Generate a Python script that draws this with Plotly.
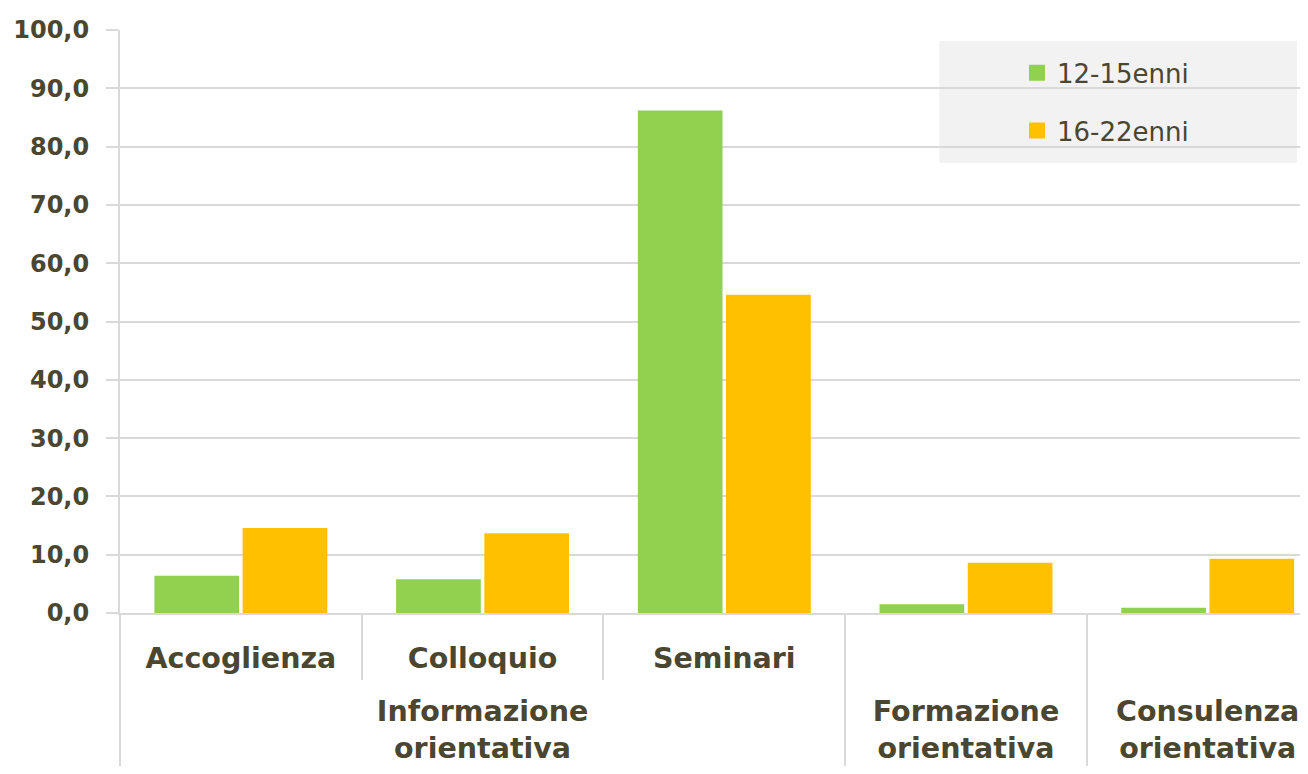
import plotly.graph_objects as go

# ---- data ----
groups = ["Informazione<br>orientativa", "Informazione<br>orientativa", "Informazione<br>orientativa",
          "Formazione<br>orientativa", "Consulenza<br>orientativa"]
activities = ["Accoglienza", "Colloquio", "Seminari", " ", "  "]
series_names = ["12-15enni", "16-22enni"]
values_12_15 = [6.4, 5.8, 86.2, 1.5, 0.9]
values_16_22 = [14.6, 13.7, 54.6, 8.6, 9.3]

GREEN = "#92d050"
ORANGE = "#ffc000"
TEXT = "#4b4630"
GRID = "#d9d9d9"
FONT = "DejaVu Sans"

# outer labels sit one blank line lower, as in the reference
group_labels = ["<br>" + g for g in groups]

fig = go.Figure()
for name, vals, col, grp in [(series_names[0], values_12_15, GREEN, "a"),
                             (series_names[1], values_16_22, ORANGE, "b")]:
    fig.add_trace(go.Bar(x=[group_labels, activities], y=vals, name=name,
                         marker=dict(color=col, line=dict(width=0)),
                         legendgroup=grp, showlegend=False))
    # legend entry with a larger square swatch
    fig.add_trace(go.Scatter(x=[None], y=[None], mode="markers", name=name,
                             marker=dict(symbol="square", size=16, color=col),
                             legendgroup=grp, showlegend=True, hoverinfo="skip"))

fig.update_layout(
    width=1308, height=774,
    margin=dict(l=112, r=0, t=22, b=169, autoexpand=False),
    paper_bgcolor="white", plot_bgcolor="white",
    barmode="group", bargap=0.27, bargroupgap=0.04,
    separators=",.",
    font=dict(family=FONT, color=TEXT, size=26),
    showlegend=True,
    legend=dict(x=0.75, y=0.967, xanchor="left", yanchor="top",
                bgcolor="rgba(0,0,0,0)", borderwidth=0,
                font=dict(family=FONT, size=26, color=TEXT),
                traceorder="grouped", tracegroupgap=21),
)
# legend background box
fig.add_shape(type="rect", xref="paper", yref="paper",
              x0=0.685, x1=0.984, y0=0.772, y1=0.981,
              fillcolor="#f2f2f2", line=dict(width=0), layer="below")

fig.update_xaxes(
    type="multicategory",
    automargin=False,
    range=[-0.5, 4.448],
    showline=True, linecolor=GRID, linewidth=2,
    showgrid=False,
    ticks="outside", tickson="boundaries", ticklen=65, tickcolor=GRID, tickwidth=2,
    ticklabelstandoff=19,
    showdividers=True, dividercolor=GRID, dividerwidth=2,
    tickfont=dict(family=FONT, size=28.5, color=TEXT, weight="bold"),
)
fig.update_yaxes(
    automargin=False,
    range=[0, 100], dtick=10, tickformat=".1f",
    showgrid=True, gridcolor=GRID, gridwidth=2,
    showline=True, linecolor=GRID, linewidth=2,
    ticks="outside", ticklen=12, tickcolor=GRID, tickwidth=2,
    ticklabelstandoff=12,
    zeroline=False,
    tickfont=dict(family=FONT, size=24, color=TEXT, weight="bold"),
)

fig.write_html("out.html")
